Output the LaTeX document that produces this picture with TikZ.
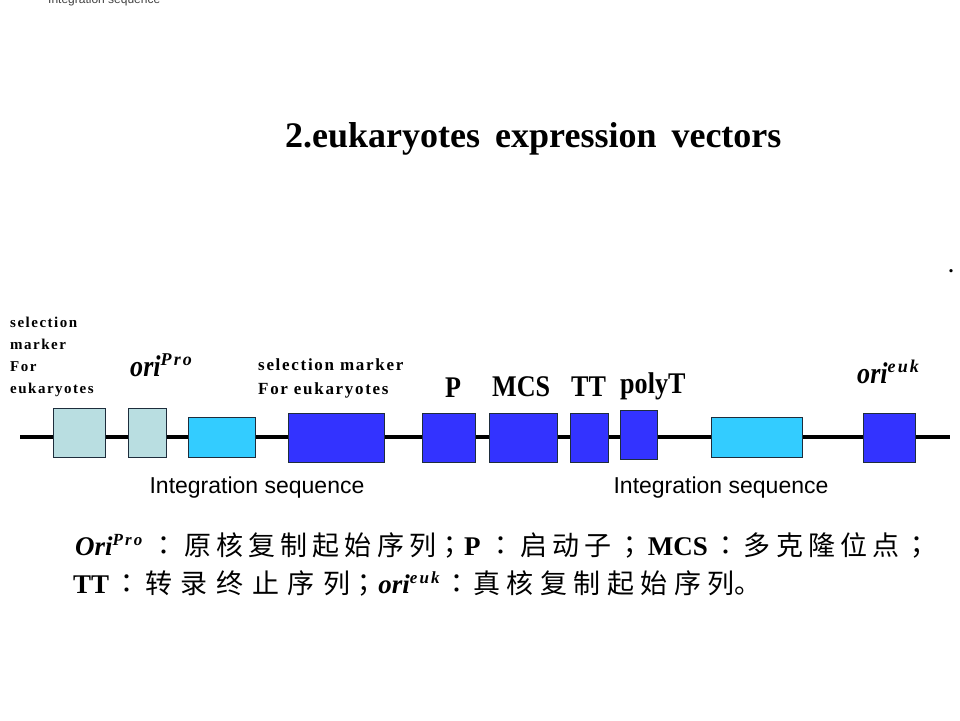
\documentclass[tikz,border=0pt]{standalone}
\usepackage{fontspec}
\setmainfont{Liberation Serif}
\newfontfamily\cjk[LetterSpace=19]{Noto Sans CJK SC}
\newfontfamily\cjkwide[LetterSpace=32]{Noto Sans CJK SC}
\newfontfamily\cjkmid[LetterSpace=24]{Noto Sans CJK SC}
\newfontfamily\cjkp{Noto Sans CJK TC}
\newfontfamily\arial{Liberation Sans}
\newfontfamily\narrow[FakeStretch=0.87]{Liberation Serif}
\newfontfamily\tracked[LetterSpace=10]{Liberation Serif}
\newfontfamily\supfont[LetterSpace=12]{Liberation Serif}
\newcommand{\fs}[1]{\fontsize{#1}{#1}\selectfont}
\newcommand{\zc}[1]{\makebox[#1pt]{\cjkp ：}}
\newcommand{\zs}[1]{\makebox[#1pt]{\cjkp ；}}
\definecolor{paleblue}{RGB}{185,222,225}
\definecolor{skyblue}{RGB}{51,204,255}
\definecolor{royal}{RGB}{51,51,255}
\definecolor{boxline}{RGB}{30,45,60}
\usepackage{tikz}

\begin{document}
\begin{tikzpicture}[x=1pt, y=-1pt, every node/.style={inner sep=0pt},
  box/.style={draw=boxline, line width=1pt, anchor=north west},
  pale/.style={box, fill=paleblue}, sky/.style={box, fill=skyblue}, deep/.style={box, fill=royal},
  lbl/.style={anchor=base west, font=\narrow\bfseries\fs{30}},
  intseq/.style={anchor=base, font=\arial\fs{23}}]
\useasboundingbox (0,0) rectangle (960,720);
\node [anchor=base west, font=\arial\fs{12}, text=black!75] (topnote) at (48,4) {Integration sequence};
\node [anchor=base west, font=\bfseries\fs{36}] (title) at (285,147) {2.eukaryotes\hspace{15pt}expression\hspace{15pt}vectors};
\node [anchor=base, font=\bfseries\fs{20}] (dot) at (951,272) {.};
\coordinate (dnaL) at (20,437);
\coordinate (dnaR) at (950,437);
\draw [line width=3.5pt] (dnaL) -- (dnaR);
\node [pale, minimum width=52, minimum height=49] (selmark) at (53,408) {};
\node [pale, minimum width=38, minimum height=49] (oripro) at (128,408) {};
\node [sky, minimum width=67, minimum height=40] (intseqA) at (188,417) {};
\node [deep, minimum width=96, minimum height=49] (selmarkB) at (288,413) {};
\node [deep, minimum width=53, minimum height=49] (prom) at (422,413) {};
\node [deep, minimum width=68, minimum height=49] (mcs) at (489,413) {};
\node [deep, minimum width=38, minimum height=49] (term) at (570,413) {};
\node [deep, minimum width=37, minimum height=49] (polyt) at (620,410) {};
\node [sky, minimum width=91, minimum height=40] (intseqB) at (711,417) {};
\node [deep, minimum width=52, minimum height=49] (orieuk) at (863,413) {};
\node [anchor=base west, align=left, font=\tracked\bfseries\fs{15}] (lblSel) at (10,393)
  {selection\\[7pt]marker\\[7pt]For\\[7pt]eukaryotes};
\node [anchor=base west, align=left, font=\tracked\bfseries\fs{17}] (lblSelB) at (258,394)
  {selection marker\\[7pt]For eukaryotes};
\node [lbl, font=\narrow\bfseries\itshape\fs{30}] (lblPro) at (130,376) {ori\raisebox{11pt}{\supfont\fs{18}Pro}};
\node [lbl] (lblP) at (445,397) {P};
\node [lbl] (lblMCS) at (492,396) {MCS};
\node [lbl] (lblTT) at (571,396) {TT};
\node [lbl] (lblPolyT) at (620,393) {polyT};
\node [lbl, font=\narrow\bfseries\itshape\fs{30}] (lblEuk) at (857,383) {ori\raisebox{11pt}{\supfont\fs{18}euk}};
\node [intseq] (seqA) at (257,493) {Integration sequence};
\node [intseq] (seqB) at (721,493) {Integration sequence};
\node [anchor=base west, font=\fs{27}] (keyA) at (75,555)
  {{\bfseries\itshape Ori\raisebox{10pt}{\supfont\fs{17}Pro}}\hspace{2pt}\zc{40}{\cjk 原核复制起始序列}\zs{28}{\bfseries P}\zc{40}{\cjk 启动子}\zs{36}{\bfseries MCS}\zc{36}{\cjk 多克隆位点}\zs{36}};
\node [anchor=base west, font=\fs{27}] (keyB) at (73,593)
  {{\bfseries TT}\zc{36}{\cjkwide 转录终止序列}\zs{28}{\bfseries\itshape ori\raisebox{10pt}{\supfont\fs{17}euk}}\zc{34}{\cjkmid 真核复制起始序列}{\cjk 。}};
\end{tikzpicture}
\end{document}
